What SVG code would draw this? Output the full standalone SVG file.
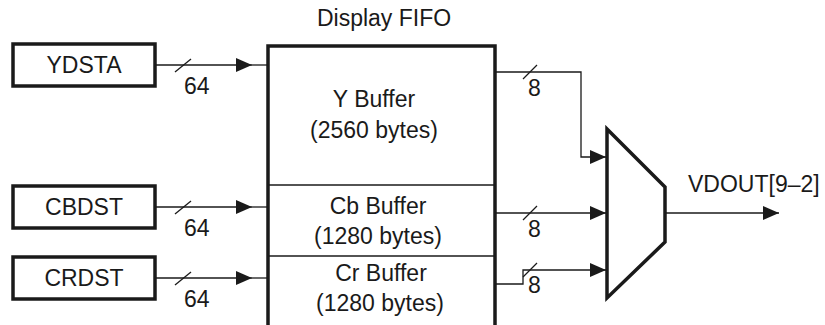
<svg xmlns="http://www.w3.org/2000/svg" width="825" height="325" viewBox="0 0 825 325">
<defs>
<marker id="ah" viewBox="0 0 16 14" refX="16" refY="7" markerWidth="16" markerHeight="14" markerUnits="userSpaceOnUse" orient="auto">
<path d="M0,0 L16,7 L0,14 Z" fill="#1a1a1a"/>
</marker>
</defs>
<style>
text{font-family:"Liberation Sans",Arial,sans-serif;font-size:23px;fill:#1a1a1a}
.c{text-anchor:middle}
.box{fill:#fff;stroke:#1a1a1a;stroke-width:3.5}
.thick{fill:none;stroke:#1a1a1a;stroke-width:3.5}
.ln{fill:none;stroke:#1a1a1a;stroke-width:1.3}
</style>
<rect width="825" height="325" fill="#fff"/>
<g id="ydsta"><rect class="box" x="13" y="44" width="142" height="42"/><text class="c" x="84" y="73">YDSTA</text></g>
<g id="cbdst"><rect class="box" x="13" y="186" width="142" height="42"/><text class="c" x="84" y="215">CBDST</text></g>
<g id="crdst"><rect class="box" x="13" y="257" width="142" height="42"/><text class="c" x="84" y="286">CRDST</text></g>
<g id="fifo">
<text class="c" x="384" y="26">Display FIFO</text>
<path class="thick" d="M268,325 V46 H495 V325"/>
<line class="ln" x1="268" y1="185" x2="495" y2="185"/>
<line class="ln" x1="268" y1="256" x2="495" y2="256"/>
<text class="c" x="374" y="107">Y Buffer</text>
<text class="c" x="374" y="138">(2560 bytes)</text>
<text class="c" x="378" y="214">Cb Buffer</text>
<text class="c" x="378" y="244">(1280 bytes)</text>
<text class="c" x="381" y="281">Cr Buffer</text>
<text class="c" x="380" y="311">(1280 bytes)</text>
</g>
<g id="mux"><path class="thick" d="M607,129 L665,187 V242 L607,298 Z"/></g>
<g id="vdout-label"><text x="688" y="192">VDOUT[9–2]</text></g>
<g id="connectors">
<line class="ln" x1="155" y1="65" x2="252" y2="65" marker-end="url(#ah)"/>
<line class="ln" x1="252" y1="65" x2="268" y2="65"/>
<line class="ln" x1="175" y1="72" x2="191" y2="59"/>
<text x="184" y="94">64</text>
<line class="ln" x1="155" y1="207" x2="252" y2="207" marker-end="url(#ah)"/>
<line class="ln" x1="252" y1="207" x2="268" y2="207"/>
<line class="ln" x1="175" y1="214" x2="191" y2="201"/>
<text x="184" y="236">64</text>
<line class="ln" x1="155" y1="278" x2="252" y2="278" marker-end="url(#ah)"/>
<line class="ln" x1="252" y1="278" x2="268" y2="278"/>
<line class="ln" x1="175" y1="285" x2="191" y2="272"/>
<text x="184" y="307">64</text>
<polyline class="ln" points="495,72 581,72 581,157 606,157" marker-end="url(#ah)"/>
<line class="ln" x1="523" y1="79" x2="537" y2="65"/>
<text x="528" y="96">8</text>
<line class="ln" x1="495" y1="213" x2="606" y2="213" marker-end="url(#ah)"/>
<line class="ln" x1="523" y1="220" x2="537" y2="206"/>
<text x="528" y="237">8</text>
<polyline class="ln" points="495,284 523,284 523,270 606,270" marker-end="url(#ah)"/>
<line class="ln" x1="523" y1="277" x2="537" y2="263"/>
<text x="528" y="293">8</text>
<line class="ln" x1="665" y1="213" x2="779" y2="213" marker-end="url(#ah)"/>
</g>
</svg>
